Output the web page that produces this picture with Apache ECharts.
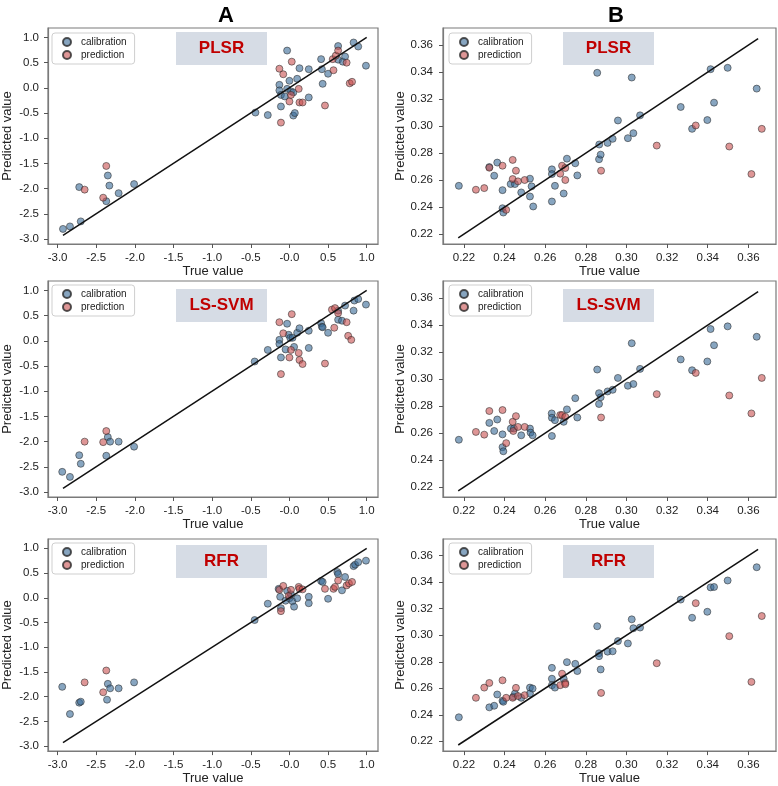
<!DOCTYPE html>
<html>
<head>
<meta charset="utf-8">
<script src="https://cdn.jsdelivr.net/npm/echarts@6/dist/echarts.min.js"></script>
<style>html,body{margin:0;padding:0;background:#fff}#c{width:778px;height:786px}</style>
</head>
<body>
<div id="c"></div>
<script>
// ---- data ----
const panelTitles = ['PLSR', 'LS-SVM', 'RFR'];
const columnTitles = ['A', 'B'];
const seriesNames = ['calibration', 'prediction'];

const aTicks = [-3, -2.5, -2, -1.5, -1, -0.5, 0, 0.5, 1];
const aXLabels = ['-3.0', '-2.5', '-2.0', '-1.5', '-1.0', '-0.5', '-0.0', '0.5', '1.0'];
const aYLabels = ['-3.0', '-2.5', '-2.0', '-1.5', '-1.0', '-0.5', '0.0', '0.5', '1.0'];
const bTicks = [0.22, 0.24, 0.26, 0.28, 0.30, 0.32, 0.34, 0.36];
const bLabels = ['0.22', '0.24', '0.26', '0.28', '0.30', '0.32', '0.34', '0.36'];

const A_line = [[-2.93, -2.93], [1.0, 1.0]];
const B_line = [[0.2172, 0.2172], [0.3648, 0.3648]];

const A_PLSR_cal = [[-2.93,-2.80],[-2.84,-2.75],[-2.70,-2.65],[-2.72,-1.97],[-2.37,-2.25],[-2.35,-1.74],[-2.33,-1.94],[-2.21,-2.09],[-2.01,-1.91],
[-0.44,-0.49],[-0.28,-0.54],[-0.03,0.74],[-0.13,0.06],[-0.13,-0.05],[-0.11,-0.14],[-0.11,-0.37],[-0.06,-0.17],[-0.03,-0.02],[0.00,0.14],[0.02,-0.07],[0.05,-0.09],[0.05,-0.55],[0.07,-0.50],[0.10,0.18],[0.13,0.39],[0.25,-0.19],[0.25,0.37],[0.41,0.57],[0.42,0.37],[0.43,0.08],[0.50,0.28],[0.63,0.83],[0.63,0.56],[0.69,0.52],[0.72,0.62],[0.83,0.90],[0.89,0.82],[0.99,0.44]];
const A_PLSR_pred = [[-2.65,-2.02],[-2.37,-1.55],[-2.41,-2.18],
[-0.13,0.38],[-0.08,0.27],[-0.11,-0.69],[0.00,-0.27],[0.02,-0.14],[0.03,0.52],[0.12,-0.02],[0.13,-0.29],[0.17,-0.29],[0.46,-0.35],[0.57,0.35],[0.56,0.57],[0.60,0.64],[0.63,0.74],[0.74,0.50],[0.78,0.09],[0.81,0.12]];

const A_LSSVM_cal = [[-2.94,-2.60],[-2.84,-2.70],[-2.72,-2.27],[-2.70,-2.44],[-2.37,-2.28],[-2.35,-1.91],[-2.32,-2.00],[-2.21,-2.00],[-2.01,-2.10],
[-0.45,-0.41],[-0.28,-0.18],[-0.13,0.02],[-0.13,-0.06],[-0.11,-0.33],[-0.05,-0.17],[-0.03,0.34],[-0.01,0.12],[0.01,0.06],[0.04,0.06],[0.06,-0.12],[0.10,0.16],[0.13,0.25],[0.25,0.20],[0.25,-0.14],[0.41,0.35],[0.42,0.28],[0.43,0.27],[0.50,0.16],[0.63,0.42],[0.63,0.60],[0.68,0.40],[0.72,0.70],[0.83,0.60],[0.84,0.80],[0.89,0.83],[0.99,0.72]];
const A_LSSVM_pred = [[-2.65,-2.00],[-2.37,-1.79],[-2.41,-2.01],
[-0.13,0.37],[-0.08,0.15],[-0.11,-0.66],[0.00,-0.33],[0.02,-0.18],[0.03,0.53],[0.12,-0.24],[0.13,-0.38],[0.17,-0.46],[0.46,-0.45],[0.58,0.26],[0.55,0.62],[0.59,0.65],[0.63,0.55],[0.74,0.37],[0.76,0.10],[0.80,0.02]];

const A_RFR_cal = [[-2.94,-1.80],[-2.84,-2.35],[-2.72,-2.12],[-2.70,-2.10],[-2.36,-2.06],[-2.35,-1.74],[-2.32,-1.83],[-2.21,-1.83],[-2.01,-1.71],
[-0.45,-0.45],[-0.28,-0.12],[-0.14,0.18],[-0.12,0.02],[-0.11,-0.21],[-0.05,-0.06],[-0.03,0.14],[0.00,-0.01],[0.02,0.07],[0.04,-0.07],[0.06,-0.18],[0.10,-0.01],[0.25,0.02],[0.25,-0.11],[0.41,0.34],[0.43,0.32],[0.50,-0.02],[0.62,0.52],[0.63,0.48],[0.68,0.15],[0.72,0.42],[0.83,0.64],[0.85,0.67],[0.89,0.72],[0.99,0.75]];
const A_RFR_pred = [[-2.65,-1.71],[-2.37,-1.47],[-2.41,-1.91],
[-0.13,0.16],[-0.08,0.24],[-0.11,-0.27],[-0.01,0.04],[0.02,0.16],[0.12,0.22],[0.13,0.18],[0.17,0.17],[0.46,0.18],[0.57,0.18],[0.59,0.22],[0.63,0.35],[0.74,0.25],[0.77,0.29],[0.81,0.32]];

const B_PLSR_cal = [[0.2175,0.2557],[0.2349,0.2632],[0.2325,0.2696],[0.2364,0.2729],[0.2390,0.2525],[0.2390,0.2391],[0.2394,0.2359],[0.2430,0.2570],[0.2451,0.2570],[0.2482,0.2508],[0.2525,0.2610],[0.2525,0.2478],[0.2533,0.2553],[0.2541,0.2404],[0.2633,0.2679],[0.2633,0.2644],[0.2633,0.2441],[0.2648,0.2557],[0.2691,0.2500],[0.2707,0.2758],[0.2748,0.2724],[0.2758,0.2634],[0.2856,0.3394],[0.2865,0.2754],[0.2866,0.2863],[0.2873,0.2788],[0.2907,0.2875],[0.2932,0.2905],[0.2958,0.3041],[0.3007,0.2910],[0.3026,0.3359],[0.3034,0.2947],[0.3067,0.3079],[0.3267,0.3141],[0.3323,0.2979],[0.3398,0.3044],[0.3414,0.3421],[0.3431,0.3173],[0.3498,0.3431],[0.3641,0.3277]];
const B_PLSR_pred = [[0.2259,0.2528],[0.2300,0.2540],[0.2325,0.2691],[0.2390,0.2706],[0.2408,0.2379],[0.2440,0.2749],[0.2440,0.2607],[0.2456,0.2669],[0.2466,0.2590],[0.2499,0.2600],[0.2674,0.2647],[0.2683,0.2706],[0.2699,0.2689],[0.2699,0.2600],[0.2875,0.2669],[0.3149,0.2855],[0.3341,0.3004],[0.3506,0.2848],[0.3615,0.2644],[0.3666,0.2979]];

const B_LSSVM_cal = [[0.2175,0.2550],[0.2325,0.2675],[0.2349,0.2615],[0.2364,0.2700],[0.2390,0.2590],[0.2390,0.2495],[0.2394,0.2465],[0.2431,0.2633],[0.2446,0.2633],[0.2482,0.2583],[0.2525,0.2633],[0.2528,0.2603],[0.2538,0.2583],[0.2632,0.2745],[0.2633,0.2713],[0.2633,0.2578],[0.2648,0.2695],[0.2691,0.2683],[0.2707,0.2775],[0.2748,0.2858],[0.2758,0.2715],[0.2856,0.3070],[0.2865,0.2815],[0.2865,0.2895],[0.2873,0.2865],[0.2907,0.2908],[0.2932,0.2920],[0.2958,0.3008],[0.3007,0.2950],[0.3026,0.3265],[0.3034,0.2963],[0.3067,0.3075],[0.3267,0.3145],[0.3323,0.3065],[0.3398,0.3130],[0.3414,0.3370],[0.3431,0.3250],[0.3498,0.3390],[0.3641,0.3313]];
const B_LSSVM_pred = [[0.2259,0.2608],[0.2300,0.2588],[0.2325,0.2763],[0.2390,0.2770],[0.2408,0.2525],[0.2440,0.2683],[0.2443,0.2615],[0.2456,0.2725],[0.2466,0.2645],[0.2499,0.2645],[0.2674,0.2733],[0.2683,0.2733],[0.2699,0.2720],[0.2875,0.2715],[0.3149,0.2888],[0.3341,0.3045],[0.3506,0.2878],[0.3615,0.2745],[0.3666,0.3008]];

const B_RFR_cal = [[0.2175,0.2381],[0.2325,0.2456],[0.2349,0.2468],[0.2364,0.2553],[0.2390,0.2506],[0.2394,0.2498],[0.2443,0.2536],[0.2451,0.2560],[0.2482,0.2528],[0.2525,0.2605],[0.2525,0.2560],[0.2538,0.2598],[0.2633,0.2754],[0.2633,0.2672],[0.2633,0.2623],[0.2648,0.2605],[0.2691,0.2672],[0.2707,0.2797],[0.2748,0.2784],[0.2758,0.2730],[0.2856,0.3068],[0.2865,0.2864],[0.2865,0.2842],[0.2873,0.2742],[0.2907,0.2876],[0.2932,0.2879],[0.2958,0.2956],[0.3007,0.2938],[0.3026,0.3120],[0.3034,0.3053],[0.3067,0.3058],[0.3267,0.3269],[0.3323,0.3132],[0.3398,0.3177],[0.3414,0.3361],[0.3431,0.3364],[0.3498,0.3413],[0.3641,0.3513]];
const B_RFR_pred = [[0.2259,0.2528],[0.2300,0.2605],[0.2325,0.2640],[0.2390,0.2660],[0.2408,0.2528],[0.2440,0.2528],[0.2456,0.2603],[0.2466,0.2541],[0.2499,0.2548],[0.2674,0.2623],[0.2683,0.2710],[0.2699,0.2640],[0.2699,0.2630],[0.2875,0.2565],[0.3149,0.2789],[0.3341,0.3242],[0.3506,0.2993],[0.3615,0.2648],[0.3666,0.3145]];

// ---- layout / styles ----
const FONT = 'Liberation Sans, Arial, sans-serif';
const colLeft = [48, 443];
const colWidth = [330, 333];
const rowTop = [28, 281, 539];
const rowHeight = [216, 216, 215];
const legendTop = [33, 285, 543];
const boxTop = [32, 289, 545];
const boxLeft = [176, 563];
const calColor = 'rgba(55,105,150,0.75)';
const predColor = 'rgba(200,80,80,0.75)';

const panels = [
  {col: 0, row: 0, cal: A_PLSR_cal, pred: A_PLSR_pred, line: A_line},
  {col: 1, row: 0, cal: B_PLSR_cal, pred: B_PLSR_pred, line: B_line},
  {col: 0, row: 1, cal: A_LSSVM_cal, pred: A_LSSVM_pred, line: A_line},
  {col: 1, row: 1, cal: B_LSSVM_cal, pred: B_LSSVM_pred, line: B_line},
  {col: 0, row: 2, cal: A_RFR_cal, pred: A_RFR_pred, line: A_line},
  {col: 1, row: 2, cal: B_RFR_cal, pred: B_RFR_pred, line: B_line}
];

function lookup(ticks, labels) {
  return function (v) {
    const i = ticks.findIndex(t => Math.abs(t - v) < 1e-9);
    return i >= 0 ? labels[i] : '';
  };
}

const grid = [], xAxis = [], yAxis = [], series = [], legend = [], graphic = [];
panels.forEach((p, i) => {
  const isA = p.col === 0;
  grid.push({
    left: colLeft[p.col], top: rowTop[p.row], width: colWidth[p.col], height: rowHeight[p.row],
    show: true, borderColor: '#7a7a7a', borderWidth: 1.2, backgroundColor: '#fff'
  });
  const ticks = isA ? aTicks : bTicks;
  const common = {
    type: 'value', gridIndex: i, splitLine: {show: false},
    axisLine: {show: true, onZero: false, lineStyle: {color: '#7a7a7a', width: 1.2}},
    axisTick: {show: true, length: 4, inside: false, lineStyle: {color: '#555', width: 1}, customValues: ticks},
    nameLocation: 'middle',
    nameTextStyle: {fontFamily: FONT, fontSize: 13, color: '#222'}
  };
  xAxis.push(Object.assign({}, common, {
    min: isA ? -3.124 : 0.2097, max: isA ? 1.146 : 0.3736,
    name: 'True value', nameGap: 20,
    axisLabel: {customValues: ticks, formatter: lookup(ticks, isA ? aXLabels : bLabels), margin: 8,
      fontFamily: FONT, fontSize: 11.5, color: '#222'}
  }));
  yAxis.push(Object.assign({}, common, {
    min: isA ? -3.099 : 0.2126, max: isA ? 1.188 : 0.3726,
    name: 'Predicted value', nameGap: isA ? 34 : 36,
    axisLabel: {customValues: ticks, formatter: lookup(ticks, isA ? aYLabels : bLabels), margin: isA ? 9 : 10,
      fontFamily: FONT, fontSize: 11.5, color: '#222'}
  }));
  series.push({
    name: seriesNames[0], type: 'scatter', xAxisIndex: i, yAxisIndex: i, data: p.cal,
    symbolSize: 7, itemStyle: {color: calColor, borderColor: '#2b2b2b', borderWidth: 0.7}, z: 2
  });
  series.push({
    name: seriesNames[1], type: 'scatter', xAxisIndex: i, yAxisIndex: i, data: p.pred,
    symbolSize: 7, itemStyle: {color: predColor, borderColor: '#2b2b2b', borderWidth: 0.7}, z: 2
  });
  series.push({
    name: 'fit', type: 'line', xAxisIndex: i, yAxisIndex: i, data: p.line,
    symbol: 'none', lineStyle: {color: '#111', width: 1.5}, z: 3, silent: true
  });
  legend.push({
    data: seriesNames, orient: 'vertical', left: colLeft[p.col] + (isA ? 4 : 6), top: legendTop[p.row],
    backgroundColor: '#fff', borderColor: '#cfcfcf', borderWidth: 1, borderRadius: 3,
    padding: [3, 8, 3, 10], itemGap: 1, itemWidth: 8, itemHeight: 8, selectedMode: false,
    textStyle: {fontFamily: FONT, fontSize: 10, color: '#222', lineHeight: 12, padding: [0, 0, 0, 5]}
  });
  graphic.push({
    type: 'rect', left: boxLeft[p.col], top: boxTop[p.row], shape: {width: 91, height: 33},
    style: {fill: '#d6dce5'}, z: 10
  });
  graphic.push({
    type: 'text', x: boxLeft[p.col] + 45.5, y: boxTop[p.row] + 16.5, z: 11,
    style: {text: panelTitles[p.row], fill: '#c00000', font: 'bold 17px ' + FONT, align: 'center', verticalAlign: 'middle'}
  });
});

const chart = echarts.init(document.getElementById('c'), null, {renderer: 'canvas'});
chart.setOption({
  backgroundColor: '#fff',
  animation: false,
  title: [
    {text: columnTitles[0], left: 221, top: 0, textAlign: 'center', textStyle: {fontFamily: FONT, fontWeight: 'bold', fontSize: 22, color: '#000'}},
    {text: columnTitles[1], left: 611, top: 0, textAlign: 'center', textStyle: {fontFamily: FONT, fontWeight: 'bold', fontSize: 22, color: '#000'}}
  ],
  grid, xAxis, yAxis, series, legend, graphic
});
</script>
</body>
</html>
